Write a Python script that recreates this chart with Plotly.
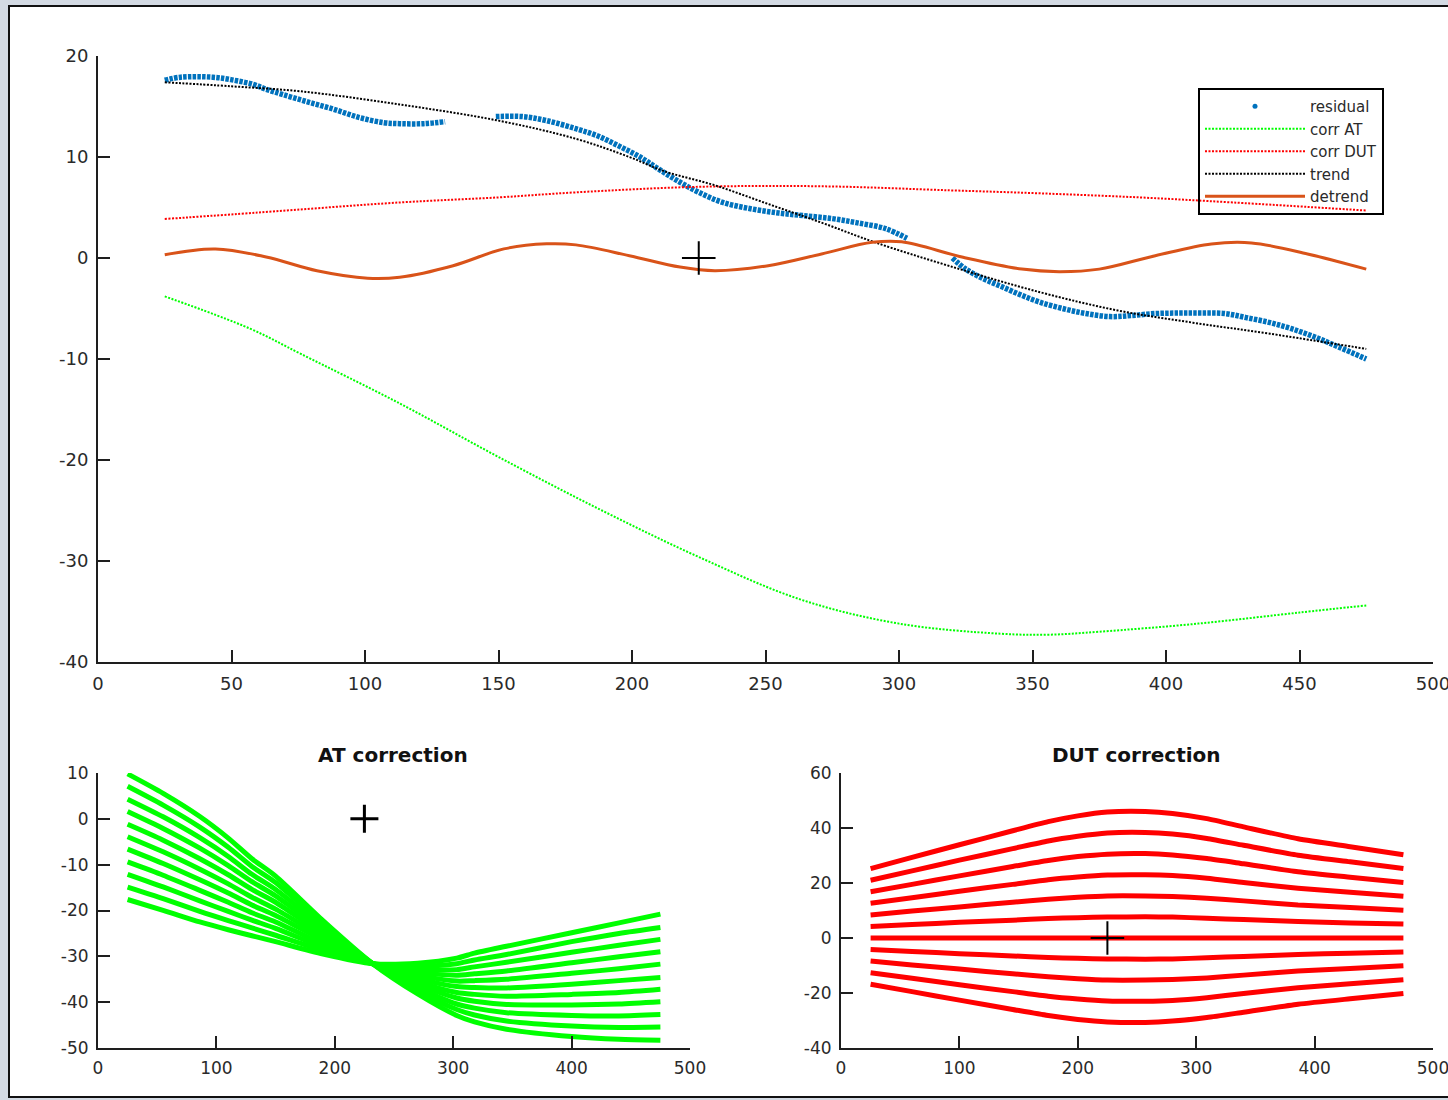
import plotly.graph_objects as go

# ---------------- top panel data ----------------
res1_x = [25, 31, 43, 51, 58, 63, 69, 78, 88, 98, 107, 113, 122, 130]
res1_y = [17.6, 17.9, 17.9, 17.6, 17.2, 16.7, 16.2, 15.5, 14.75, 13.9, 13.4, 13.3, 13.3, 13.5]
res2_x = [149, 159, 168, 179, 187, 195, 203, 210, 218, 225, 234, 245, 255, 264, 275, 284, 295, 303]
res2_y = [14.0, 14.0, 13.6, 12.8, 12.1, 11.1, 10.0, 8.8, 7.5, 6.5, 5.5, 4.85, 4.45, 4.2, 3.9, 3.5, 2.9, 1.95]
res3_x = [320, 325, 332, 339, 346, 353, 362, 370, 379, 387, 396, 405, 413, 422, 430, 439, 447, 456, 465, 475]
res3_y = [0.0, -1.1, -2.1, -2.9, -3.7, -4.4, -5.05, -5.5, -5.8, -5.7, -5.5, -5.45, -5.45, -5.5, -5.9, -6.4, -7.0,
          -7.85, -8.85, -10.0]

corr_at_x = [25, 57, 76, 113, 150, 188, 225, 263, 300, 338, 356, 375, 412, 450, 475]
corr_at_y = [-3.8, -7.0, -9.5, -14.4, -19.7, -24.9, -29.6, -33.8, -36.2, -37.2, -37.3, -37.0, -36.2, -35.1, -34.4]

corr_dut_x = [25, 60, 113, 150, 179, 225, 271, 319, 353, 390, 425, 475]
corr_dut_y = [3.86, 4.5, 5.5, 6.0, 6.5, 7.05, 7.1, 6.7, 6.4, 6.0, 5.5, 4.7]

trend_x = [25, 50, 76, 113, 150, 179, 199, 212, 231, 251, 271, 291, 319, 353, 382, 410, 439, 475]
trend_y = [17.4, 17.0, 16.5, 15.2, 13.6, 11.8, 10.0, 8.6, 7.2, 5.35, 3.5, 1.55, -0.8, -3.4, -5.2, -6.4, -7.5, -9.0]

detrend_x = [25, 44, 63, 82, 101, 113, 133, 152, 168, 179, 199, 218, 231, 251, 271, 290, 301, 324, 346, 360,
             375, 396, 417, 432, 453, 475]
detrend_y = [0.33, 0.9, 0.1, -1.26, -2.0, -1.9, -0.76, 0.9, 1.4, 1.3, 0.23, -0.9, -1.26, -0.76, 0.4, 1.55, 1.6,
             0.07, -1.1, -1.35, -1.1, 0.23, 1.39, 1.49, 0.4, -1.1]

center_pt = [225, 0]

# ---------------- AT correction (11 lines) ----------------
at_x = [25, 55, 86, 110, 130, 150, 190, 232, 270, 303, 318, 345, 400, 440, 475]
at_lines = [
    [9.8, 5.55, 0.5, -4.2, -8.7, -12.5, -22.2, -31.6, -38.2, -42.9, -44.3, -45.9, -47.5, -48.1, -48.3],
    [7.1, 3.0, -1.8, -6.2, -10.4, -13.9, -22.9, -31.6, -37.5, -41.6, -42.8, -44.1, -45.2, -45.5, -45.4],
    [4.3, 0.45, -4.1, -8.2, -12.1, -15.4, -23.6, -31.6, -36.8, -40.4, -41.3, -42.3, -42.9, -43.0, -42.7],
    [1.6, -2.1, -6.4, -10.2, -13.7, -16.8, -24.3, -31.6, -36.1, -39.1, -39.8, -40.5, -40.6, -40.4, -39.9],
    [-1.2, -4.65, -8.7, -12.2, -15.4, -18.2, -25.1, -31.6, -35.5, -37.9, -38.3, -38.7, -38.3, -37.9, -37.2],
    [-3.9, -7.2, -11.0, -14.2, -17.1, -19.7, -25.8, -31.6, -34.8, -36.6, -36.8, -36.9, -36.1, -35.3, -34.6],
    [-6.6, -9.75, -13.3, -16.2, -18.8, -21.1, -26.5, -31.6, -34.1, -35.4, -35.3, -35.0, -33.7, -32.7, -31.7],
    [-9.4, -12.3, -15.6, -18.2, -20.5, -22.5, -27.3, -31.6, -33.5, -34.1, -33.8, -33.2, -31.4, -30.1, -29.0],
    [-12.1, -14.85, -17.9, -20.2, -22.1, -23.9, -28.0, -31.6, -32.8, -32.9, -32.3, -31.3, -29.1, -27.6, -26.3],
    [-14.9, -17.4, -20.2, -22.2, -23.8, -25.4, -28.7, -31.6, -32.1, -31.6, -30.8, -29.6, -26.8, -25.0, -23.7],
    [-17.6, -19.95, -22.5, -24.2, -25.5, -26.8, -29.5, -31.6, -31.5, -30.4, -29.3, -27.8, -24.85, -22.7, -20.8],
]

# ---------------- DUT correction (11 lines) ----------------
dut_x = [25, 60, 100, 145, 175, 200, 225, 257, 280, 309, 340, 386, 430, 475]
dut_lines = [
    [25.2, 29.3, 33.9, 39.0, 42.3, 44.4, 45.8, 46.0, 45.3, 43.4, 40.4, 36.1, 33.2, 30.3],
    [21.0, 24.4, 28.3, 32.5, 35.3, 37.0, 38.2, 38.4, 37.8, 36.2, 33.7, 30.1, 27.7, 25.3],
    [16.8, 19.5, 22.6, 26.0, 28.2, 29.6, 30.5, 30.7, 30.2, 28.9, 27.0, 24.1, 22.1, 20.2],
    [12.6, 14.6, 17.0, 19.5, 21.2, 22.2, 22.9, 23.0, 22.7, 21.7, 20.2, 18.1, 16.6, 15.2],
    [8.4, 9.8, 11.3, 13.0, 14.1, 14.8, 15.3, 15.3, 15.1, 14.5, 13.5, 12.0, 11.1, 10.1],
    [4.2, 4.9, 5.7, 6.5, 7.1, 7.4, 7.6, 7.7, 7.6, 7.2, 6.7, 6.0, 5.5, 5.1],
    [0.0, 0.0, 0.0, 0.0, 0.0, 0.0, 0.0, 0.0, 0.0, 0.0, 0.0, 0.0, 0.0, 0.0],
    [-4.2, -4.9, -5.7, -6.5, -7.1, -7.4, -7.6, -7.7, -7.6, -7.2, -6.7, -6.0, -5.5, -5.1],
    [-8.4, -9.8, -11.3, -13.0, -14.1, -14.8, -15.3, -15.3, -15.1, -14.5, -13.5, -12.0, -11.1, -10.1],
    [-12.6, -14.6, -17.0, -19.5, -21.2, -22.2, -22.9, -23.0, -22.7, -21.7, -20.2, -18.1, -16.6, -15.2],
    [-16.8, -19.5, -22.6, -26.0, -28.2, -29.6, -30.5, -30.7, -30.2, -28.9, -27.0, -24.1, -22.1, -20.2],
]

# ---------------- tick labels ----------------
top_xticks = [0, 50, 100, 150, 200, 250, 300, 350, 400, 450, 500]
top_yticks = [-40, -30, -20, -10, 0, 10, 20]
bl_xticks = [0, 100, 200, 300, 400, 500]
bl_yticks = [-50, -40, -30, -20, -10, 0, 10]
br_xticks = [0, 100, 200, 300, 400, 500]
br_yticks = [-40, -20, 0, 20, 40, 60]

legend_names = ["residual", "corr AT", "corr DUT", "trend", "detrend"]

# ---------------- styles ----------------
# the page body margin is set to 5px (top) / 8px (left) by the post script below;
# the figure fills the rest of the 1448x1100 window (leaving a thin frame band at the bottom)
OFF_X, OFF_Y = 8, 5
W, H = 1448 - OFF_X, 1093
FONT = "DejaVu Sans"
TXT = "#2a2a2a"
AXC = "#1e1e1e"
BLUE = "#0072BD"
GREEN = "#00FF00"
RED = "#FF0000"
ORANGE = "#D95319"
FRAME_BG = "#d3dae3"


def fx(p):
    """window pixel -> paper x"""
    return (p - OFF_X) / W


def fy(p):
    """window pixel -> paper y"""
    return 1 - (p - OFF_Y) / H


def lab(v):
    return str(v)


fig = go.Figure()

# residual (line of dots)
rx = res1_x + [None] + res2_x + [None] + res3_x
ry = res1_y + [None] + res2_y + [None] + res3_y
fig.add_trace(go.Scatter(x=rx, y=ry, mode="lines",
                         line=dict(color=BLUE, width=5.5, dash="3.5px,1.2px", shape="spline"),
                         showlegend=False, xaxis="x", yaxis="y", hoverinfo="skip"))
fig.add_trace(go.Scatter(x=[None], y=[None], mode="markers", marker=dict(color=BLUE, size=5),
                         name=legend_names[0], xaxis="x", yaxis="y"))
fig.add_trace(go.Scatter(x=corr_at_x, y=corr_at_y, mode="lines", name=legend_names[1],
                         line=dict(color=GREEN, width=2, dash="2px,1.5px", shape="spline"), xaxis="x", yaxis="y"))
fig.add_trace(go.Scatter(x=corr_dut_x, y=corr_dut_y, mode="lines", name=legend_names[2],
                         line=dict(color=RED, width=2, dash="2px,1.5px", shape="spline"), xaxis="x", yaxis="y"))
fig.add_trace(go.Scatter(x=trend_x, y=trend_y, mode="lines", name=legend_names[3],
                         line=dict(color="#000000", width=2, dash="2px,1.5px", shape="spline"), xaxis="x", yaxis="y"))
fig.add_trace(go.Scatter(x=detrend_x, y=detrend_y, mode="lines", name=legend_names[4],
                         line=dict(color=ORANGE, width=3, shape="spline"), xaxis="x", yaxis="y"))
fig.add_trace(go.Scatter(x=[center_pt[0]], y=[center_pt[1]], mode="markers", showlegend=False,
                         marker=dict(symbol="cross-thin", size=24, line=dict(color="#000000", width=2)),
                         xaxis="x", yaxis="y"))

for ln in at_lines:
    fig.add_trace(go.Scatter(x=at_x, y=ln, mode="lines", showlegend=False,
                             line=dict(color=GREEN, width=5, shape="spline", smoothing=0.7),
                             xaxis="x2", yaxis="y2", hoverinfo="skip"))
fig.add_trace(go.Scatter(x=[center_pt[0]], y=[center_pt[1]], mode="markers", showlegend=False,
                         marker=dict(symbol="cross-thin", size=20, line=dict(color="#000000", width=3)),
                         xaxis="x2", yaxis="y2"))

for ln in dut_lines:
    fig.add_trace(go.Scatter(x=dut_x, y=ln, mode="lines", showlegend=False,
                             line=dict(color=RED, width=5, shape="spline", smoothing=0.6),
                             xaxis="x3", yaxis="y3", hoverinfo="skip"))
fig.add_trace(go.Scatter(x=[center_pt[0]], y=[center_pt[1]], mode="markers", showlegend=False,
                         marker=dict(symbol="cross-thin", size=24, line=dict(color="#000000", width=2)),
                         xaxis="x3", yaxis="y3"))


def axis(domain, rng, ticks, anchor, size):
    return dict(domain=domain, range=rng, tickvals=ticks, ticktext=[lab(t) for t in ticks],
                showline=True, linecolor=AXC, linewidth=2, ticks="inside", ticklen=12, tickwidth=2,
                tickcolor=AXC, showgrid=False, zeroline=False, anchor=anchor, fixedrange=True,
                automargin=False, ticklabelstandoff=4, ticklabeloverflow="allow",
                tickfont=dict(family=FONT, size=size, color=TXT))


fig.update_layout(
    width=W, height=H,
    margin=dict(l=0, r=0, t=0, b=0, pad=0, autoexpand=False),
    paper_bgcolor="#ffffff",
    plot_bgcolor="#ffffff",
    xaxis=axis([fx(98), fx(1433)], [0, 500], top_xticks, "y", 18),
    yaxis=axis([fy(662), fy(56)], [-40, 20], top_yticks, "x", 18),
    xaxis2=axis([fx(98), fx(690)], [0, 500], bl_xticks, "y2", 17),
    yaxis2=axis([fy(1048), fy(773)], [-50, 10], bl_yticks, "x2", 17),
    xaxis3=axis([fx(841), fx(1433)], [0, 500], br_xticks, "y3", 17),
    yaxis3=axis([fy(1048), fy(773)], [-40, 60], br_yticks, "x3", 17),
    legend=dict(x=fx(1198), y=fy(88), xanchor="left", yanchor="top", bgcolor="rgba(255,255,255,0)",
                bordercolor="#000000", borderwidth=2, itemwidth=100, tracegroupgap=0,
                font=dict(family=FONT, size=15, color=TXT)),
    shapes=[
        dict(type="line", xref="paper", yref="paper", x0=fx(9), x1=fx(9), y0=0, y1=1,
             line=dict(color="#111111", width=2)),
        dict(type="line", xref="paper", yref="paper", x0=0, x1=1, y0=fy(6), y1=fy(6),
             line=dict(color="#111111", width=2)),
        dict(type="line", xref="paper", yref="paper", x0=0, x1=1, y0=fy(1097), y1=fy(1097),
             line=dict(color="#111111", width=2)),
    ],
    annotations=[
        dict(text="<b>AT correction</b>", x=fx(393), y=fy(755), xref="paper", yref="paper",
             showarrow=False, xanchor="center", yanchor="middle",
             font=dict(family=FONT, size=20, color="#111111")),
        dict(text="<b>DUT correction</b>", x=fx(1136), y=fy(755), xref="paper", yref="paper",
             showarrow=False, xanchor="center", yanchor="middle",
             font=dict(family=FONT, size=20, color="#111111")),
    ],
    showlegend=True,
)

fig.write_html("out.html", config={"displayModeBar": False},
               post_script="document.body.style.margin='" + str(OFF_Y) + "px 0px 0px " + str(OFF_X) + "px';"
                           "document.body.style.overflow='hidden';"
                           "document.documentElement.style.overflow='hidden';"
                           "document.body.style.background='" + FRAME_BG + "';")
